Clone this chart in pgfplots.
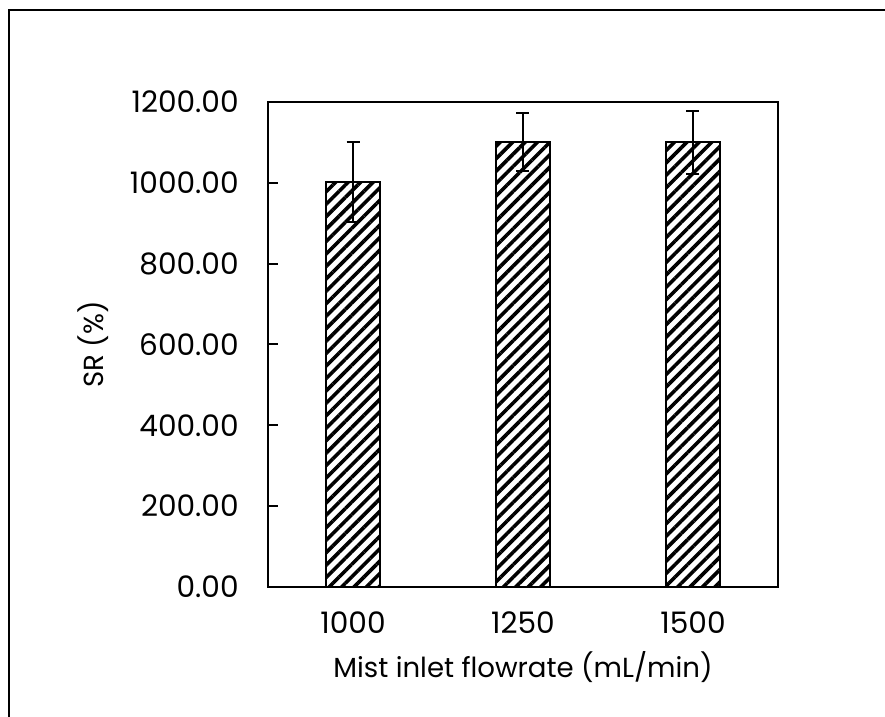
\documentclass[border=0pt]{standalone}
\usepackage{fontspec}
\setmainfont{Poppins}
\usepackage{pgfplots}
\pgfplotsset{compat=1.18}
\usetikzlibrary{patterns.meta}

\begin{document}
\begin{tikzpicture}[x=0.5pt,y=0.5pt]
  % page area and the partial frame around the figure
  \useasboundingbox (0,0) rectangle (885,717);
  \draw[line width=1pt] (9,-10) -- (9,707) -- (900,707);

  \begin{axis}[
    at={(134pt,65pt)}, anchor=south west,
    scale only axis,
    width=255pt, height=242.5pt,
    xmin=-0.5, xmax=2.5,
    ymin=0, ymax=1200,
    axis line style={line width=1pt},
    xtick={0,1,2},
    xticklabels={1000,1250,1500},
    xtick style={draw=none},
    ytick={0,200,...,1200},
    ytick pos=left,
    ytick style={line width=1pt, black},
    tick align=inside,
    major tick length=5pt,
    yticklabel style={
      /pgf/number format/fixed,
      /pgf/number format/fixed zerofill,
      /pgf/number format/precision=2,
      /pgf/number format/1000 sep={},
      /pgf/number format/assume math mode=true,
      anchor=east, inner sep=0pt, xshift=-14.5pt},
    xticklabel style={anchor=base, inner sep=0pt, yshift=-23.5pt},
    tick label style={font=\fontsize{14.8}{17}\selectfont},
    label style={font=\fontsize{13.8}{16}\selectfont},
    xlabel={Mist inlet flowrate (mL/min)},
    xlabel style={at={(axis description cs:0.5,-0.1856)}, anchor=base, inner sep=0pt},
    ylabel={SR (\%)},
    ylabel style={at={(axis description cs:-0.343,0.5)}, anchor=center, inner sep=0pt},
  ]
    \addplot[
      ybar, bar width=27pt,
      draw=black, line width=1pt,
      pattern={Lines[angle=45, distance=4.4pt, line width=1.8pt]},
      error bars/.cd, y dir=both, y explicit,
      error bar style={line width=1pt, black},
      error mark options={rotate=90, mark size=3.25pt, line width=1pt, black},
    ] coordinates {
      (0,1003) +- (0,99)
      (1,1102) +- (0,72)
      (2,1100) +- (0,78)
    };
  \end{axis}
\end{tikzpicture}
\end{document}
